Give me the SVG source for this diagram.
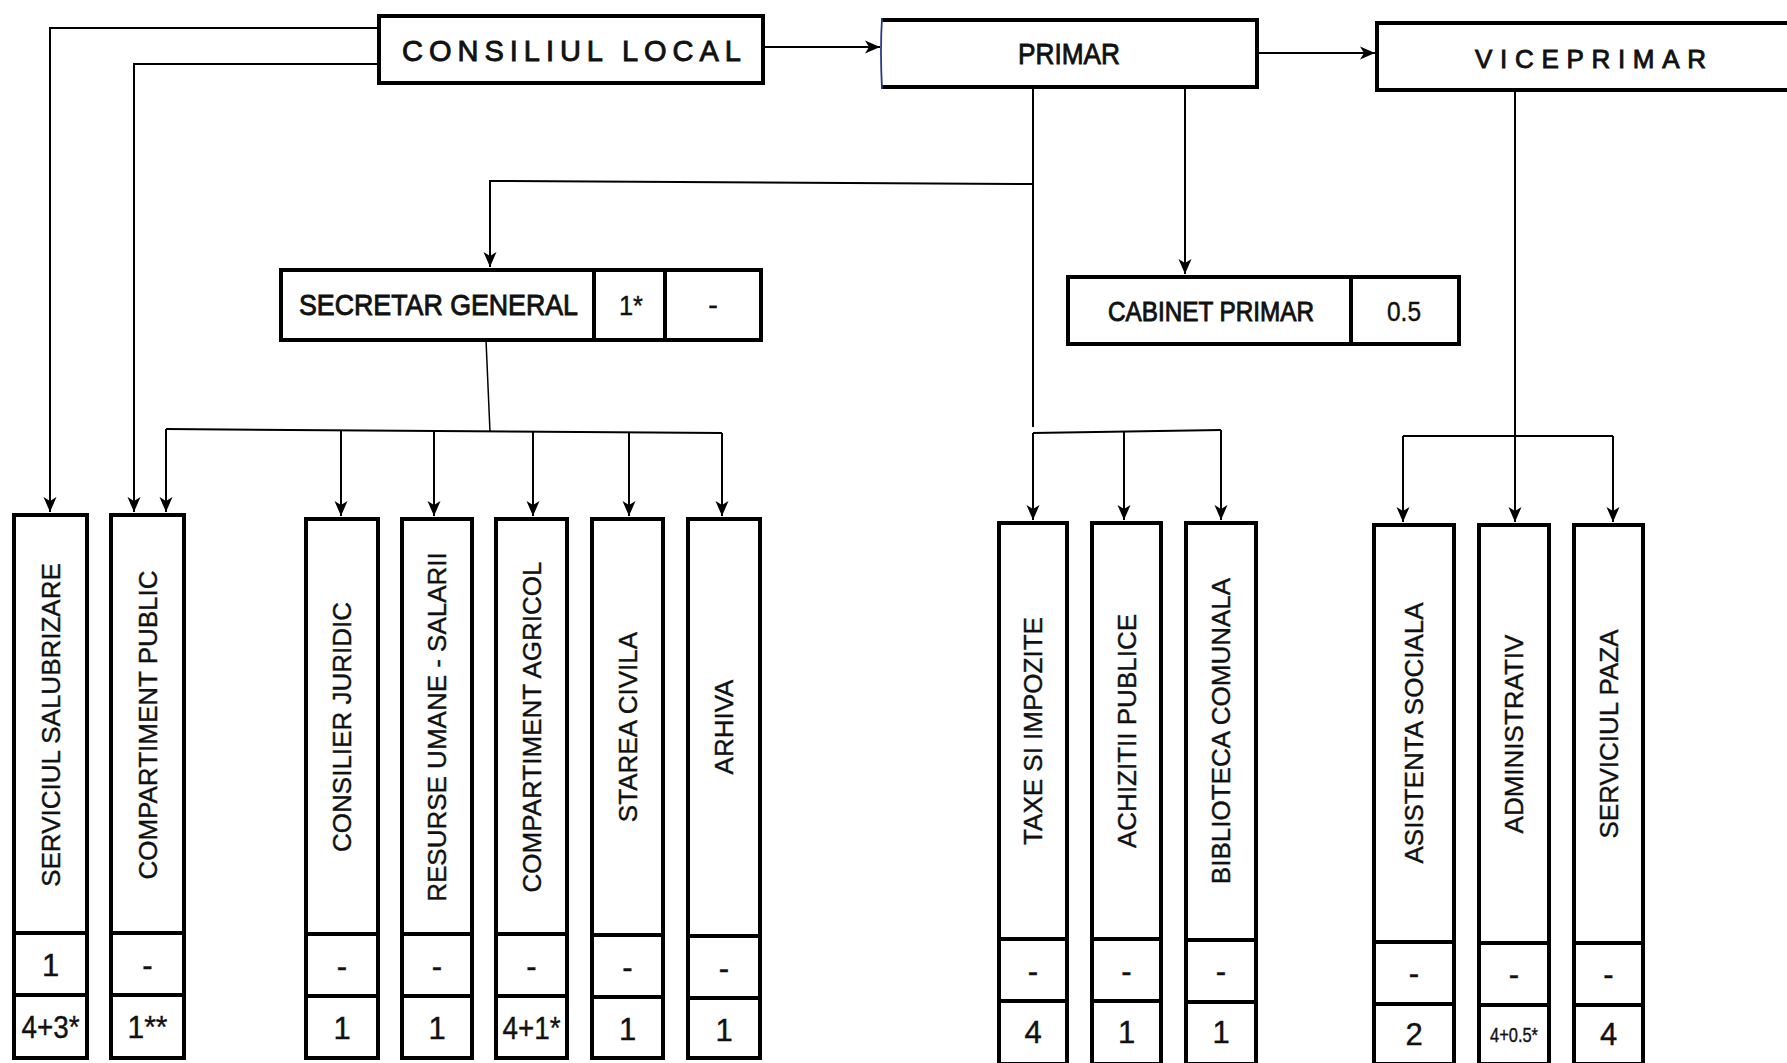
<svg xmlns="http://www.w3.org/2000/svg" width="1787" height="1063" viewBox="0 0 1787 1063">
<style>
  .box{fill:#fff;stroke:#000;stroke-width:4}
  .div{stroke:#000;stroke-width:4}
  .t{font-family:"Liberation Sans",Arial,sans-serif;fill:#111;stroke:#111;stroke-width:0.4}
  .h{stroke-width:0.9}
  .col{font-size:26px;text-anchor:middle}
  .num{font-size:31px;text-anchor:middle}
  .c{fill:none;stroke:#000;stroke-width:2}
  .ca{fill:none;stroke:#000;stroke-width:2;marker-end:url(#ah)}
</style>
<defs>
  <marker id="ah" markerUnits="userSpaceOnUse" markerWidth="16" markerHeight="14" refX="15" refY="7" orient="auto">
    <path d="M0,0.5 L15,7 L0,13.5 L4,7 z" fill="#000"/>
  </marker>
</defs>
<rect width="1787" height="1063" fill="#fff"/>

<g id="connectors">
  <path class="ca" d="M379,28 H50 V512"/>
  <path class="ca" d="M379,64 H134 V512"/>
  <path class="ca" d="M763,47 H880"/>
  <path class="ca" d="M1257,53 H1375"/>
  <path class="c" d="M1033,88 V427"/>
  <path class="ca" d="M1033,184 L490,181 V267"/>
  <path class="ca" d="M1185,88 V274"/>
  <path class="c" style="stroke-width:1.5" d="M486,340 L490,432"/>
  <path class="c" d="M166,429 L722,433"/>
  <path class="ca" d="M166,429 V512"/>
  <path class="ca" d="M341,430 V516"/>
  <path class="ca" d="M434,431 V516"/>
  <path class="ca" d="M533,431 V516"/>
  <path class="ca" d="M629,432 V516"/>
  <path class="ca" d="M722,433 V516"/>
  <path class="c" d="M1033,433 L1221,430"/>
  <path class="ca" d="M1033,433 V520"/>
  <path class="ca" d="M1124,431 V520"/>
  <path class="ca" d="M1221,430 V520"/>
  <path class="ca" d="M1515,90 V522"/>
  <path class="c" d="M1403,436 H1613"/>
  <path class="ca" d="M1403,436 V522"/>
  <path class="ca" d="M1613,436 V522"/>
</g>

<g id="consiliul-local">
  <rect class="box" x="379" y="16" width="384" height="67"/>
  <text class="t h" x="402" y="61" font-size="29" textLength="339" lengthAdjust="spacing">CONSILIUL LOCAL</text>
</g>
<g id="primar">
  <path d="M881,20 H1257 V87 H881" fill="#fff" stroke="#000" stroke-width="4"/>
  <path d="M882,18 Q880,50 882,89" fill="none" stroke="#2a3a8a" stroke-width="1.8"/>
  <text class="t h" x="1018" y="64" font-size="30" textLength="102" lengthAdjust="spacingAndGlyphs">PRIMAR</text>
</g>
<g id="viceprimar">
  <path d="M1800,23 H1377 V90 H1800" fill="#fff" stroke="#000" stroke-width="4"/>
  <text class="t h" x="1475" y="68" font-size="26" textLength="231" lengthAdjust="spacing">VICEPRIMAR</text>
</g>
<g id="secretar-general">
  <rect class="box" x="281" y="270" width="480" height="70"/>
  <line class="div" x1="594" y1="270" x2="594" y2="340"/>
  <line class="div" x1="665" y1="270" x2="665" y2="340"/>
  <text class="t h" x="299" y="315" font-size="29" textLength="279" lengthAdjust="spacingAndGlyphs">SECRETAR GENERAL</text>
  <text class="t" x="631" y="315" font-size="27" text-anchor="middle" textLength="24" lengthAdjust="spacingAndGlyphs">1*</text>
  <text class="t" x="713" y="315" font-size="29" text-anchor="middle">-</text>
</g>
<g id="cabinet-primar">
  <rect class="box" x="1068" y="277" width="391" height="67"/>
  <line class="div" x1="1351" y1="277" x2="1351" y2="344"/>
  <text class="t h" x="1108" y="321" font-size="27" textLength="206" lengthAdjust="spacingAndGlyphs">CABINET PRIMAR</text>
  <text class="t" x="1404" y="321" font-size="27" text-anchor="middle" textLength="34" lengthAdjust="spacingAndGlyphs">0.5</text>
</g>

<g id="serviciul-salubrizare">
  <rect class="box" x="14" y="515" width="73" height="543"/>
  <line class="div" x1="14" y1="933" x2="87" y2="933"/>
  <line class="div" x1="14" y1="995" x2="87" y2="995"/>
  <text class="t col" transform="translate(50.5,725) rotate(-90)" dy="0.36em">SERVICIUL SALUBRIZARE</text>
  <text class="t num" x="50.5" y="976">1</text>
  <text class="t num" x="50.5" y="1038" textLength="58" lengthAdjust="spacingAndGlyphs">4+3*</text>
</g>
<g id="compartiment-public">
  <rect class="box" x="111" y="515" width="73" height="543"/>
  <line class="div" x1="111" y1="933" x2="184" y2="933"/>
  <line class="div" x1="111" y1="995" x2="184" y2="995"/>
  <text class="t col" transform="translate(147.5,725) rotate(-90)" dy="0.36em">COMPARTIMENT PUBLIC</text>
  <text class="t num" x="147.5" y="976">-</text>
  <text class="t num" x="147.5" y="1038" textLength="40" lengthAdjust="spacingAndGlyphs">1**</text>
</g>
<g id="consilier-juridic">
  <rect class="box" x="306" y="519" width="72" height="539"/>
  <line class="div" x1="306" y1="934" x2="378" y2="934"/>
  <line class="div" x1="306" y1="996" x2="378" y2="996"/>
  <text class="t col" transform="translate(342,727) rotate(-90)" dy="0.36em">CONSILIER JURIDIC</text>
  <text class="t num" x="342" y="977">-</text>
  <text class="t num" x="342" y="1039">1</text>
</g>
<g id="resurse-umane">
  <rect class="box" x="402" y="519" width="70" height="539"/>
  <line class="div" x1="402" y1="934" x2="472" y2="934"/>
  <line class="div" x1="402" y1="996" x2="472" y2="996"/>
  <text class="t col" transform="translate(437,727) rotate(-90)" dy="0.36em">RESURSE UMANE - SALARII</text>
  <text class="t num" x="437" y="977">-</text>
  <text class="t num" x="437" y="1039">1</text>
</g>
<g id="compartiment-agricol">
  <rect class="box" x="496" y="519" width="71" height="539"/>
  <line class="div" x1="496" y1="934" x2="567" y2="934"/>
  <line class="div" x1="496" y1="996" x2="567" y2="996"/>
  <text class="t col" transform="translate(531.5,727) rotate(-90)" dy="0.36em">COMPARTIMENT AGRICOL</text>
  <text class="t num" x="531.5" y="977">-</text>
  <text class="t num" x="531.5" y="1039" textLength="58" lengthAdjust="spacingAndGlyphs">4+1*</text>
</g>
<g id="starea-civila">
  <rect class="box" x="592" y="519" width="71" height="539"/>
  <line class="div" x1="592" y1="935" x2="663" y2="935"/>
  <line class="div" x1="592" y1="997" x2="663" y2="997"/>
  <text class="t col" transform="translate(627.5,727) rotate(-90)" dy="0.36em">STAREA CIVILA</text>
  <text class="t num" x="627.5" y="978">-</text>
  <text class="t num" x="627.5" y="1040">1</text>
</g>
<g id="arhiva">
  <rect class="box" x="688" y="519" width="72" height="539"/>
  <line class="div" x1="688" y1="936" x2="760" y2="936"/>
  <line class="div" x1="688" y1="998" x2="760" y2="998"/>
  <text class="t col" transform="translate(724,727) rotate(-90)" dy="0.36em">ARHIVA</text>
  <text class="t num" x="724" y="979">-</text>
  <text class="t num" x="724" y="1041">1</text>
</g>

<g id="taxe-impozite">
  <rect class="box" x="999" y="523" width="68" height="541"/>
  <line class="div" x1="999" y1="939" x2="1067" y2="939"/>
  <line class="div" x1="999" y1="1001" x2="1067" y2="1001"/>
  <text class="t col" transform="translate(1033,731) rotate(-90)" dy="0.36em">TAXE SI IMPOZITE</text>
  <text class="t num" x="1033" y="982">-</text>
  <text class="t num" x="1033" y="1043">4</text>
</g>
<g id="achizitii-publice">
  <rect class="box" x="1092" y="523" width="69" height="541"/>
  <line class="div" x1="1092" y1="939" x2="1161" y2="939"/>
  <line class="div" x1="1092" y1="1001" x2="1161" y2="1001"/>
  <text class="t col" transform="translate(1126.5,731) rotate(-90)" dy="0.36em">ACHIZITII PUBLICE</text>
  <text class="t num" x="1126.5" y="982">-</text>
  <text class="t num" x="1126.5" y="1043">1</text>
</g>
<g id="biblioteca-comunala">
  <rect class="box" x="1186" y="523" width="70" height="541"/>
  <line class="div" x1="1186" y1="940" x2="1256" y2="940"/>
  <line class="div" x1="1186" y1="1002" x2="1256" y2="1002"/>
  <text class="t col" transform="translate(1221,731) rotate(-90)" dy="0.36em">BIBLIOTECA COMUNALA</text>
  <text class="t num" x="1221" y="982">-</text>
  <text class="t num" x="1221" y="1043">1</text>
</g>
<g id="asistenta-sociala">
  <rect class="box" x="1374" y="525" width="80" height="539"/>
  <line class="div" x1="1374" y1="942" x2="1454" y2="942"/>
  <line class="div" x1="1374" y1="1004" x2="1454" y2="1004"/>
  <text class="t col" transform="translate(1414,733) rotate(-90)" dy="0.36em">ASISTENTA SOCIALA</text>
  <text class="t num" x="1414" y="984">-</text>
  <text class="t num" x="1414" y="1045">2</text>
</g>
<g id="administrativ">
  <rect class="box" x="1479" y="525" width="70" height="539"/>
  <line class="div" x1="1479" y1="943" x2="1549" y2="943"/>
  <line class="div" x1="1479" y1="1005" x2="1549" y2="1005"/>
  <text class="t col" transform="translate(1514,734) rotate(-90)" dy="0.36em">ADMINISTRATIV</text>
  <text class="t num" x="1514" y="985">-</text>
  <text class="t" x="1490" y="1042" font-size="20" textLength="48" lengthAdjust="spacingAndGlyphs">4+0.5*</text>
</g>
<g id="serviciul-paza">
  <rect class="box" x="1574" y="525" width="69" height="539"/>
  <line class="div" x1="1574" y1="943" x2="1643" y2="943"/>
  <line class="div" x1="1574" y1="1005" x2="1643" y2="1005"/>
  <text class="t col" transform="translate(1608.5,734) rotate(-90)" dy="0.36em">SERVICIUL PAZA</text>
  <text class="t num" x="1608.5" y="985">-</text>
  <text class="t num" x="1608.5" y="1045">4</text>
</g>
</svg>
